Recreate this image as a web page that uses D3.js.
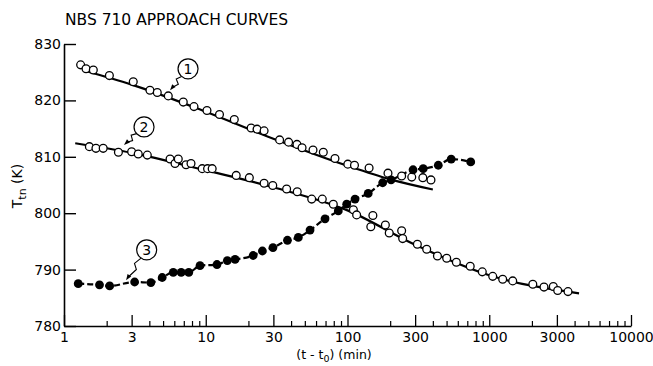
<!DOCTYPE html>
<html>
<head>
<meta charset="utf-8">
<script src="https://cdn.jsdelivr.net/npm/d3@7"></script>
<style>
  html, body { margin: 0; padding: 0; background: #fff; }
  svg { display: block; }
  text { font-family: "DejaVu Sans", "Liberation Sans", Arial, sans-serif; fill: #000; }
</style>
</head>
<body>
<svg id="chart" width="653" height="366"></svg>
<script>
// ---------- data ----------
const chartTitle = "NBS 710 APPROACH CURVES";
const xMajorTicks = [1, 3, 10, 30, 100, 300, 1000, 3000, 10000];
const xTickLabels = ["1", "3", "10", "30", "100", "300", "1000", "3000", "10000"];
const yTicks = [780, 790, 800, 810, 820, 830];
const yTickLabels = ["780", "790", "800", "810", "820", "830"];

// Curve 1 (open circles, upper)
const s1t = [1.31, 1.43, 1.61, 2.09, 3.08, 4.04, 4.55, 5.44, 6.94, 8.26, 10.2, 12.5, 15.9, 20.9, 23.0, 25.8,
             33.2, 38.4, 44.0, 47.8, 57.1, 67.5, 81.6, 100.5, 112, 142, 193, 241, 284, 340, 388];
const s1T = [826.3, 825.6, 825.4, 824.4, 823.3, 821.8, 821.4, 820.8, 819.7, 818.9, 818.2, 817.5, 816.6, 815.1, 814.9, 814.6,
             813.0, 812.6, 812.2, 811.6, 811.2, 810.8, 809.7, 808.7, 808.5, 808.0, 807.1, 806.6, 806.4, 806.3, 805.9];
const fit1t = [1.38, 3, 10, 30, 100, 200, 400];
const fit1T = [825.3, 822.8, 818.0, 813.2, 808.4, 806.0, 804.2];

// Curve 2 (open circles, middle)
const s2t = [1.51, 1.68, 1.89, 2.42, 3.00, 3.34, 3.87, 5.60, 6.07, 6.40, 7.26, 7.87, 9.44, 10.3, 11.1, 16.4, 20.3,
             25.8, 29.7, 37.2, 44.2, 55.9, 66.4, 79.4, 110, 116, 151, 146, 185, 197, 241, 245, 311, 362, 431, 501,
             586, 734, 893, 1058, 1244, 1464, 2029, 2433, 2830, 3040, 3594];
const s2T = [811.8, 811.5, 811.5, 810.8, 810.9, 810.5, 810.3, 809.6, 808.8, 809.6, 808.6, 808.8, 807.9, 807.9, 807.9, 806.7, 806.3,
             805.3, 804.9, 804.3, 803.8, 802.5, 802.5, 801.6, 800.6, 799.7, 799.6, 797.6, 797.9, 796.5, 796.9, 795.5, 794.5, 793.6, 792.4, 792.0,
             791.3, 790.6, 789.6, 788.8, 788.3, 788.0, 787.4, 786.9, 787.0, 786.3, 786.1];
const fit2t = [1.2, 3, 10, 30, 100, 300, 1000, 4300];
const fit2T = [812.4, 810.7, 807.6, 804.6, 800.5, 794.4, 789.0, 785.8];

// Curve 3 (filled circles, rising)
const s3t = [1.26, 1.78, 2.10, 3.15, 4.10, 4.93, 5.90, 6.71, 7.59, 9.11, 12.0, 14.2, 16.1, 21.6, 25.1, 29.8,
             37.7, 45.0, 54.4, 69.4, 86.1, 98.7, 113, 140, 177, 203, 290, 342, 437, 539, 740];
const s3T = [787.5, 787.3, 787.1, 787.8, 787.7, 788.6, 789.5, 789.5, 789.5, 790.7, 790.9, 791.6, 791.8, 792.5, 793.3, 793.9,
             795.2, 795.7, 797.0, 799.0, 800.4, 801.6, 802.5, 803.5, 805.4, 805.9, 807.7, 807.9, 808.5, 809.6, 809.1];

// Circled curve labels with leader arrows (data coordinates)
const labelNames = ["1", "2", "3"];
const labelAtT = [7.5, 3.67, 3.83];
const labelAtK = [825.6, 815.3, 793.5];
const arrowTipT = [5.6, 2.65, 2.74];
const arrowTipK = [821.8, 812.1, 788.1];

// ---------- layout ----------
const svg = d3.select("#chart");
const x = d3.scaleLog().domain([1, 10000]).range([64, 631]);
const y = d3.scaleLinear().domain([780, 830]).range([326, 44]);

const zip = (a, b) => a.map((v, i) => [v, b[i]]);
const line = d3.line().x(d => x(d[0])).y(d => y(d[1])).curve(d3.curveMonotoneX);
const FONT = "DejaVu Sans, Liberation Sans, Arial, sans-serif";

// Title
svg.append("text")
  .attr("x", 65).attr("y", 25)
  .attr("font-size", 16)
  .attr("textLength", 223)
  .attr("lengthAdjust", "spacingAndGlyphs")
  .text(chartTitle);

// Axes
const minorTicks = [];
[1, 10, 100, 1000].forEach(d => [2, 4, 5, 6, 7, 8, 9].forEach(m => minorTicks.push(d * m)));

const xAxis = d3.axisBottom(x)
  .tickValues(xMajorTicks)
  .tickFormat((d, i) => xTickLabels[i])
  .tickSize(-11).tickSizeOuter(0).tickPadding(6);
const gx = svg.append("g").attr("transform", "translate(0,326)").call(xAxis);
gx.select(".domain").attr("stroke-width", 1.6);
gx.selectAll(".tick line").attr("stroke-width", 1.3);
gx.selectAll("text").attr("font-size", 14).attr("font-family", FONT);

const xMinor = d3.axisBottom(x).tickValues(minorTicks).tickFormat("").tickSize(-5).tickSizeOuter(0);
const gxm = svg.append("g").attr("transform", "translate(0,326)").call(xMinor);
gxm.select(".domain").remove();
gxm.selectAll(".tick line").attr("stroke-width", 1.2);

const yAxis = d3.axisLeft(y)
  .tickValues(yTicks)
  .tickFormat((d, i) => yTickLabels[i])
  .tickSize(-12).tickSizeOuter(0).tickPadding(3);
const gy = svg.append("g").attr("transform", "translate(64,0)").call(yAxis);
gy.select(".domain").attr("stroke-width", 1.6);
gy.selectAll(".tick line").attr("stroke-width", 1.4);
gy.selectAll("text").attr("font-size", 14).attr("font-family", FONT);

// Axis titles
const yt = svg.append("text")
  .attr("transform", "translate(22,186) rotate(-90)")
  .attr("text-anchor", "middle")
  .attr("font-size", 14);
yt.append("tspan").text("T");
yt.append("tspan").attr("font-size", 11).attr("dy", 4).text("tn");
yt.append("tspan").attr("dy", -4).text(" (K)");

const xt = svg.append("text")
  .attr("x", 334).attr("y", 359)
  .attr("text-anchor", "middle")
  .attr("font-size", 12.5);
xt.append("tspan").text("(t - t");
xt.append("tspan").attr("font-size", 9.5).attr("dy", 3).text("0");
xt.append("tspan").attr("dy", -3).text(") (min)");

// Fitted curves
svg.append("path").datum(zip(fit1t, fit1T)).attr("d", line)
  .attr("fill", "none").attr("stroke", "#000").attr("stroke-width", 2.2);
svg.append("path").datum(zip(fit2t, fit2T)).attr("d", line)
  .attr("fill", "none").attr("stroke", "#000").attr("stroke-width", 2.2);
svg.append("path").datum(zip(s3t, s3T)).attr("d", line)
  .attr("fill", "none").attr("stroke", "#000").attr("stroke-width", 2.2)
  .attr("stroke-dasharray", "6,3");

// Points
function openPts(t, T) {
  svg.append("g").selectAll("circle").data(zip(t, T)).join("circle")
    .attr("cx", d => x(d[0])).attr("cy", d => y(d[1])).attr("r", 3.9)
    .attr("fill", "#fff").attr("stroke", "#000").attr("stroke-width", 1.3);
}
openPts(s1t, s1T);
openPts(s2t, s2T);
svg.append("g").selectAll("circle").data(zip(s3t, s3T)).join("circle")
  .attr("cx", d => x(d[0])).attr("cy", d => y(d[1])).attr("r", 4.4)
  .attr("fill", "#000");

// Circled labels with leaders
labelNames.forEach((name, i) => {
  const cx = x(labelAtT[i]), cy = y(labelAtK[i]);
  const tx = x(arrowTipT[i]), ty = y(arrowTipK[i]);
  const r = 10;
  const dx = tx - cx, dy = ty - cy, len = Math.hypot(dx, dy);
  const ux = dx / len, uy = dy / len, px = -uy, py = ux;
  const sx = cx + ux * r, sy = cy + uy * r;
  const L = len - r;
  const p1 = [sx + ux * L * 0.3 + px * 2.5, sy + uy * L * 0.3 + py * 2.5];
  const p2 = [sx + ux * L * 0.45 - px * 2.5, sy + uy * L * 0.45 - py * 2.5];
  svg.append("path")
    .attr("d", `M${sx},${sy}L${p1[0]},${p1[1]}L${p2[0]},${p2[1]}L${tx - ux * 4},${ty - uy * 4}`)
    .attr("fill", "none").attr("stroke", "#000").attr("stroke-width", 1.1);
  svg.append("path")
    .attr("d", `M${tx},${ty}L${tx - ux * 6 + px * 2.2},${ty - uy * 6 + py * 2.2}L${tx - ux * 6 - px * 2.2},${ty - uy * 6 - py * 2.2}Z`)
    .attr("fill", "#000");
  svg.append("circle").attr("cx", cx).attr("cy", cy).attr("r", r)
    .attr("fill", "#fff").attr("stroke", "#000").attr("stroke-width", 1.2);
  svg.append("text").attr("x", cx).attr("y", cy + 5)
    .attr("text-anchor", "middle").attr("font-size", 14).text(name);
});
</script>
</body>
</html>
